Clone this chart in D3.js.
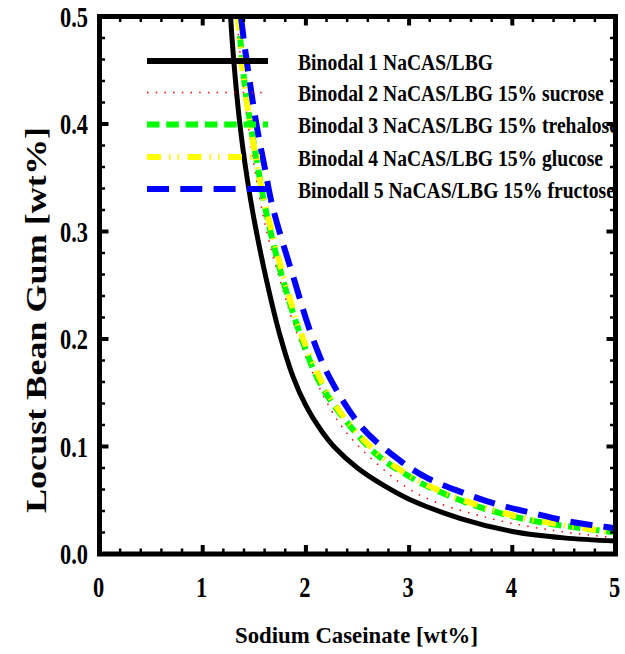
<!DOCTYPE html>
<html>
<head>
<meta charset="utf-8">
<script src="https://cdn.jsdelivr.net/npm/d3@7"></script>
<style>
  body { margin: 0; background: #fff; }
  text { font-family: "Liberation Serif", "Times New Roman", serif; font-weight: bold; fill: #000; }
</style>
</head>
<body>
<script>
// values (wt%)
var legendLabels = [
  "Binodal 1 NaCAS/LBG",
  "Binodal 2 NaCAS/LBG 15% sucrose",
  "Binodal 3 NaCAS/LBG 15% trehalose",
  "Binodal 4 NaCAS/LBG 15% glucose",
  "Binodall 5 NaCAS/LBG 15% fructose"
];

var nacas1 = [1.27, 1.30, 1.36, 1.43, 1.50, 1.62, 1.75, 1.875, 2.00, 2.14, 2.28, 2.50, 2.75, 3.00, 3.50, 4.00, 4.50, 5.00];
var lbg1   = [0.50, 0.46, 0.40, 0.35, 0.31, 0.254, 0.203, 0.165, 0.138, 0.116, 0.099, 0.080, 0.064, 0.051, 0.033, 0.021, 0.015, 0.012];

var nacas2 = [1.33, 1.40, 1.50, 1.62, 1.78, 2.00, 2.33, 2.70, 3.10, 3.75, 4.39, 5.00];
var lbg2   = [0.50, 0.43, 0.36, 0.30, 0.245, 0.183, 0.121, 0.083, 0.055, 0.034, 0.022, 0.015];

var nacas3 = [1.35, 1.38, 1.43, 1.52, 1.615, 1.78, 1.99, 2.11, 2.26, 2.68, 3.04, 3.20, 3.55, 3.92, 4.31, 4.68, 5.00];
var lbg3   = [0.50, 0.46, 0.42, 0.368, 0.318, 0.254, 0.192, 0.164, 0.140, 0.093, 0.070, 0.062, 0.048, 0.037, 0.029, 0.024, 0.020];

var nacas4 = [1.34, 1.39, 1.47, 1.57, 1.68, 1.80, 1.99, 2.26, 2.68, 3.04, 3.32, 3.71, 4.09, 4.49, 5.00];
var lbg4   = [0.50, 0.447, 0.394, 0.340, 0.296, 0.252, 0.196, 0.142, 0.095, 0.071, 0.058, 0.044, 0.034, 0.027, 0.020];

var nacas5 = [1.37, 1.40, 1.45, 1.52, 1.60, 1.68, 1.89, 2.05, 2.23, 2.55, 2.91, 3.17, 3.55, 3.86, 4.20, 4.51, 4.84, 5.00];
var lbg5   = [0.50, 0.477, 0.443, 0.40, 0.36, 0.322, 0.254, 0.205, 0.164, 0.117, 0.087, 0.071, 0.056, 0.046, 0.038, 0.031, 0.026, 0.024];

var xTicks = [0, 1, 2, 3, 4, 5];
var yTicks = [0.0, 0.1, 0.2, 0.3, 0.4, 0.5];
var yTickLabels = ["0.0", "0.1", "0.2", "0.3", "0.4", "0.5"];

var width = 625, height = 654;
var plotL = 99.5, plotR = 615.5, plotT = 16.5, plotB = 554;

var svg = d3.select("body").append("svg")
    .attr("width", width)
    .attr("height", height);

var x = d3.scaleLinear().domain([0, 5]).range([plotL, plotR]);
var y = d3.scaleLinear().domain([0, 0.5]).range([plotB, plotT]);

var series = [
  {xs: nacas1, ys: lbg1, color: "#000000", w: 5,   dash: null},
  {xs: nacas2, ys: lbg2, color: "#ff0000", w: 1.5, dash: "1.5,7.2"},
  {xs: nacas3, ys: lbg3, color: "#00ff00", w: 6,   dash: "12.5,6.8"},
  {xs: nacas4, ys: lbg4, color: "#ffff00", w: 6,   dash: "14,8,1.5,7,1.5,8.5"},
  {xs: nacas5, ys: lbg5, color: "#0000ff", w: 6,   dash: "22,11.3"}
];

svg.append("clipPath").attr("id", "plot")
  .append("rect")
    .attr("x", plotL).attr("y", plotT)
    .attr("width", plotR - plotL).attr("height", plotB - plotT);

var line = d3.line()
    .x(function (d) { return x(d[0]); })
    .y(function (d) { return y(d[1]); })
    .curve(d3.curveCatmullRom.alpha(0.5));

var curves = svg.append("g").attr("clip-path", "url(#plot)");
series.forEach(function (s) {
  var pts = d3.zip(s.xs, s.ys);
  curves.append("path")
      .attr("d", line(pts))
      .attr("fill", "none")
      .attr("stroke", s.color)
      .attr("stroke-width", s.w)
      .attr("stroke-dasharray", s.dash);
});

// legend
var legendY = [61, 92.5, 124.5, 157, 189];
var legend = svg.append("g");
series.forEach(function (s, i) {
  legend.append("line")
      .attr("x1", 147).attr("x2", 268)
      .attr("y1", legendY[i]).attr("y2", legendY[i])
      .attr("stroke", s.color)
      .attr("stroke-width", s.w === 5 ? 6 : s.w)
      .attr("stroke-dasharray", s.dash);
});
var legText = legend.selectAll("text.leg")
  .data(legendLabels)
  .enter().append("text")
    .attr("class", "leg")
    .attr("x", 298)
    .attr("y", function (d, i) { return legendY[i] + 8.5; })
    .style("font-size", "23.5px")
    .text(function (d) { return d; });
// the type in the figure is squeezed sideways
var legRatio = 195 / legText.node().getComputedTextLength();
legText.attr("textLength", function () { return this.getComputedTextLength() * legRatio; })
    .attr("lengthAdjust", "spacingAndGlyphs");

// frame and ticks, on all four sides, pointing in
var axes = svg.append("g");
axes.append("rect")
    .attr("x", plotL).attr("y", plotT)
    .attr("width", plotR - plotL).attr("height", plotB - plotT)
    .attr("fill", "none").attr("stroke", "#000").attr("stroke-width", 5);

var xMinor = d3.range(0, 5.001, 0.2);
var yMinor = d3.range(0, 0.5001, 0.02);
xMinor.forEach(function (v) {
  var major = Math.abs(v - Math.round(v)) < 1e-6;
  var len = major ? 9 : 5.5, sw = major ? 4 : 2.5;
  axes.append("line").attr("x1", x(v)).attr("x2", x(v)).attr("y1", plotB).attr("y2", plotB - len)
      .attr("stroke", "#000").attr("stroke-width", sw);
  axes.append("line").attr("x1", x(v)).attr("x2", x(v)).attr("y1", plotT).attr("y2", plotT + len)
      .attr("stroke", "#000").attr("stroke-width", sw);
});
yMinor.forEach(function (v) {
  var major = Math.abs(v * 10 - Math.round(v * 10)) < 1e-6;
  var len = major ? 9 : 5.5, sw = major ? 4 : 2.5;
  axes.append("line").attr("y1", y(v)).attr("y2", y(v)).attr("x1", plotL).attr("x2", plotL + len)
      .attr("stroke", "#000").attr("stroke-width", sw);
  axes.append("line").attr("y1", y(v)).attr("y2", y(v)).attr("x1", plotR).attr("x2", plotR - len)
      .attr("stroke", "#000").attr("stroke-width", sw);
});

// tick labels
var yLab = svg.selectAll("text.ylab")
  .data(yTicks)
  .enter().append("text")
    .attr("class", "ylab")
    .attr("x", 88)
    .attr("y", function (d) { return y(d) + 10; })
    .attr("text-anchor", "end")
    .style("font-size", "29px")
    .text(function (d, i) { return yTickLabels[i]; });
var tickRatio = 28 / yLab.node().getComputedTextLength();
yLab.attr("textLength", function () { return this.getComputedTextLength() * tickRatio; })
    .attr("lengthAdjust", "spacingAndGlyphs");

var xLab = svg.selectAll("text.xlab")
  .data(xTicks)
  .enter().append("text")
    .attr("class", "xlab")
    .attr("x", function (d) { return x(d) - 1; })
    .attr("y", 597)
    .attr("text-anchor", "middle")
    .style("font-size", "29px")
    .text(function (d) { return d; });
xLab.attr("textLength", function () { return this.getComputedTextLength() * tickRatio; })
    .attr("lengthAdjust", "spacingAndGlyphs");

// axis titles
svg.append("text")
    .attr("x", 235).attr("y", 643)
    .attr("textLength", 243).attr("lengthAdjust", "spacingAndGlyphs")
    .style("font-size", "23px")
    .text("Sodium Caseinate [wt%]");

svg.append("text")
    .attr("transform", "translate(46,513) rotate(-90)")
    .attr("x", 0).attr("y", 0)
    .attr("textLength", 386).attr("lengthAdjust", "spacingAndGlyphs")
    .style("font-size", "29px")
    .text("Locust Bean Gum [wt%]");
</script>
</body>
</html>
